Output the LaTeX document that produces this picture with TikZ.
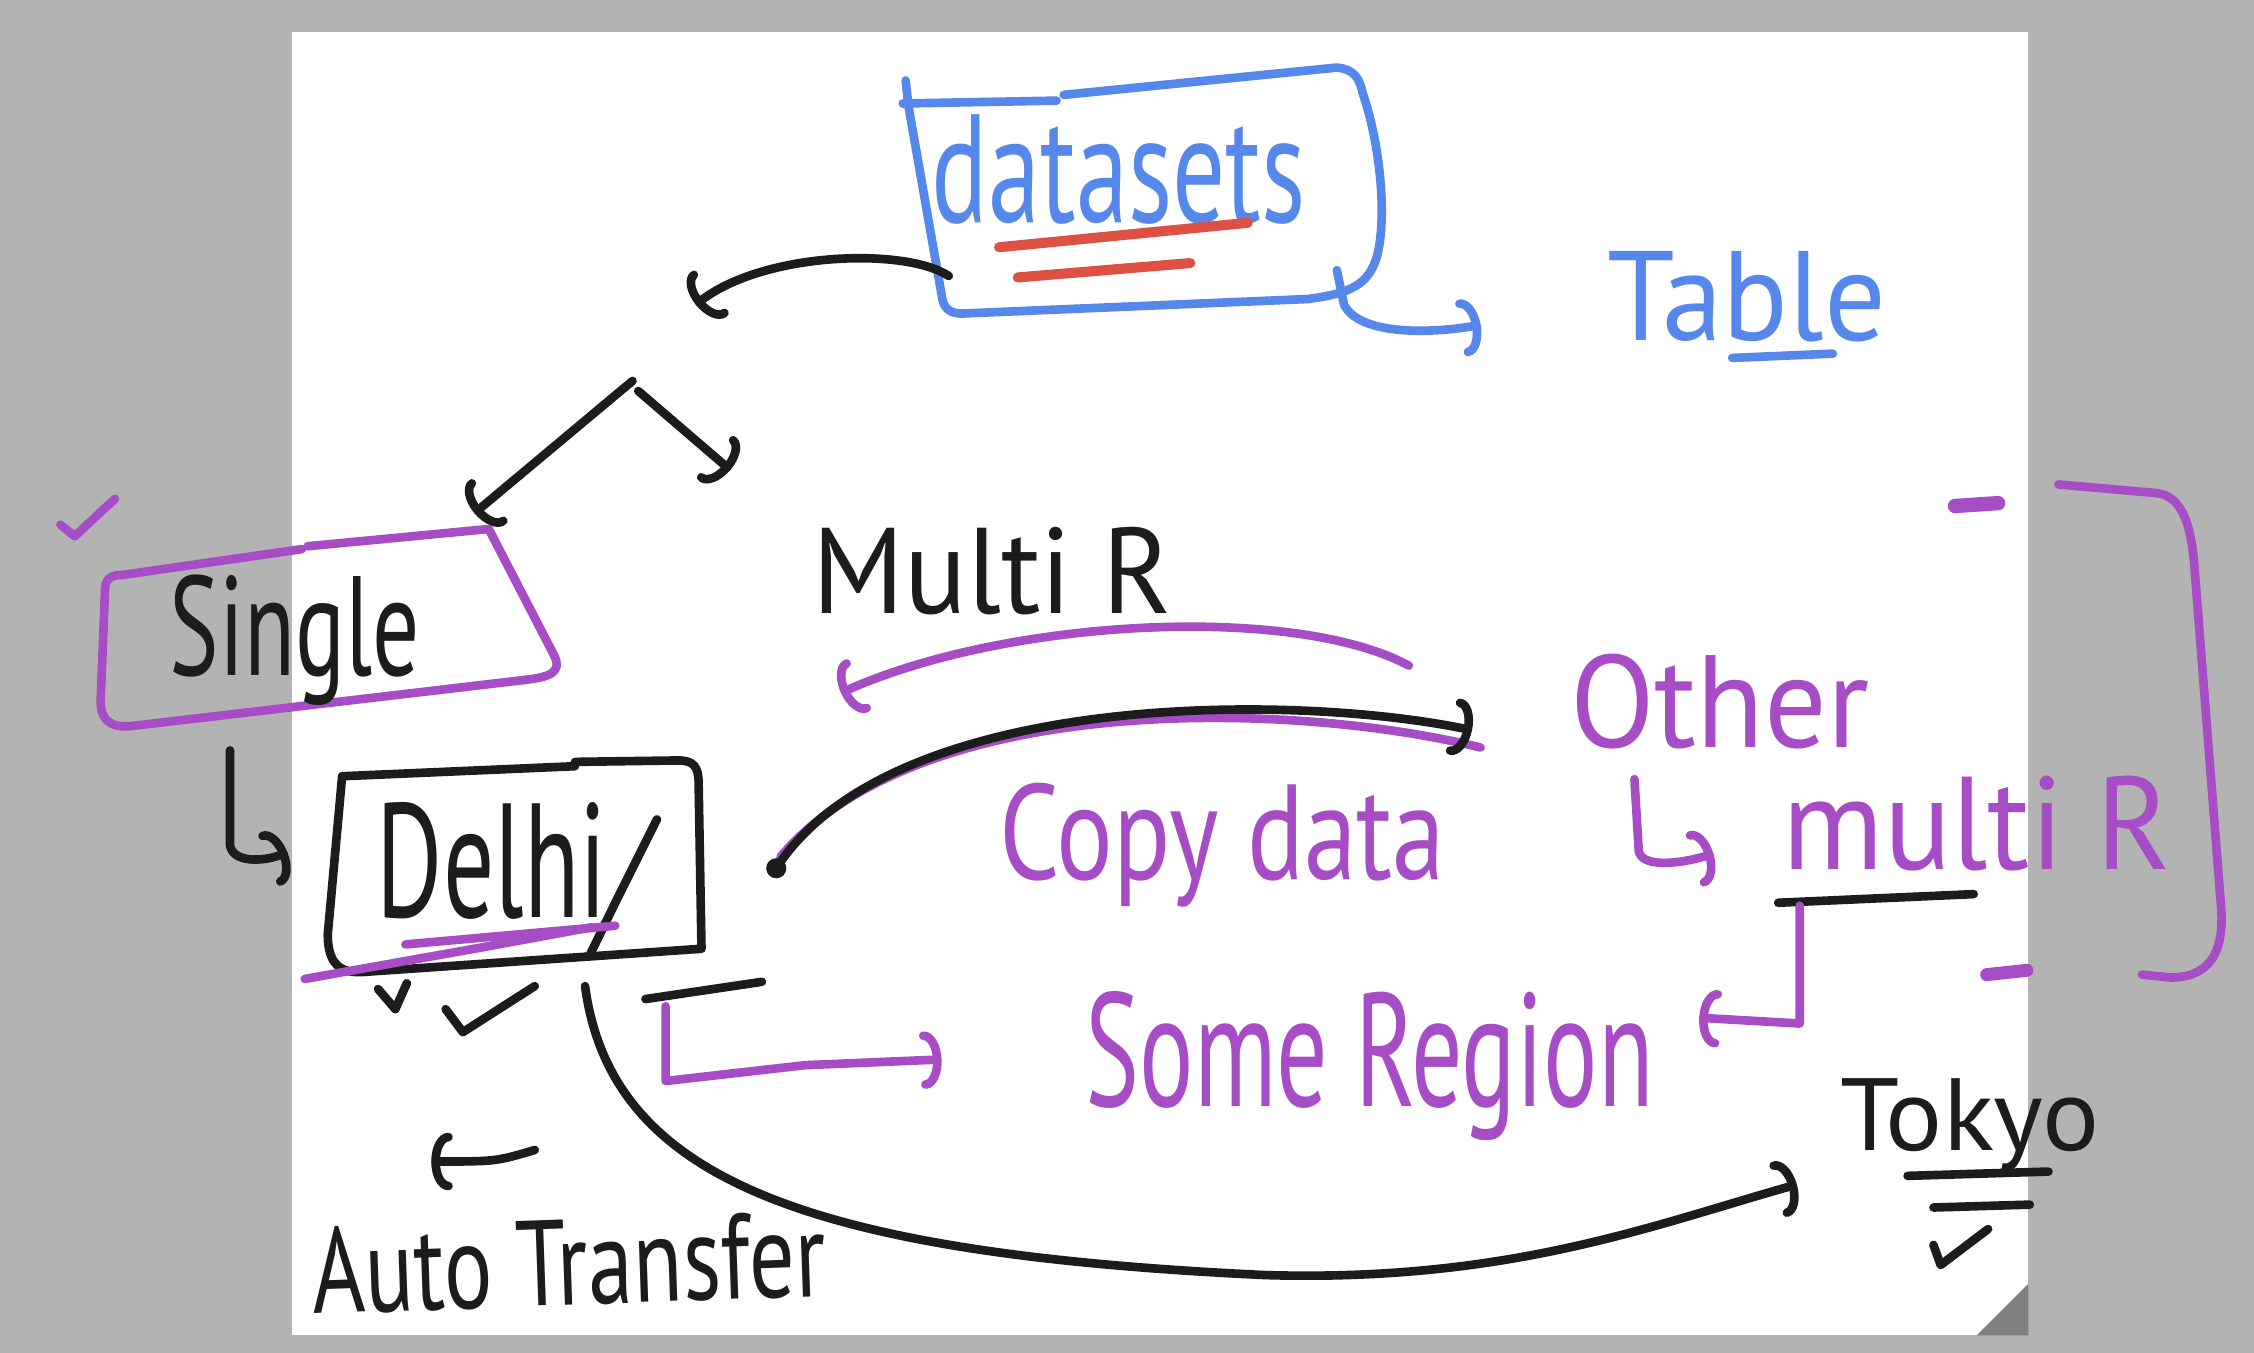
\documentclass[tikz,border=0pt]{standalone}
\usepackage{fontspec}
\setmainfont{PT Sans}
\usetikzlibrary{arrows.meta}
\definecolor{bggray}{HTML}{B3B3B3}
\definecolor{foldgray}{HTML}{808080}
\definecolor{inkblue}{HTML}{5688EB}
\definecolor{inkpurple}{HTML}{A64CC4}
\definecolor{inkred}{HTML}{DD5044}
\definecolor{inkblack}{HTML}{1C1C1C}
\newcommand\handw[3]{\resizebox{#1pt}{#2pt}{#3}}
\tikzset{
  pen/.style={line width=6pt, line cap=round, line join=round},
  bk/.style={pen, draw=inkblack},
  bl/.style={pen, draw=inkblue},
  pu/.style={pen, draw=inkpurple},
  rd/.style={pen, draw=inkred},
  hooktip/.style={-{Arc Barb[length=12pt,width=40pt,line cap=round]}},
  txt/.style={inner sep=0pt, anchor=base west},
}
\begin{document}
\begin{tikzpicture}[x=1pt,y=-1pt]
\useasboundingbox (0,0) rectangle (1568,941);
\fill[bggray] (0,0) rectangle (1568,941);
\fill[white] (203,22) rectangle (1411,929);
\fill[foldgray] (1375,929) -- (1411,893) -- (1411,929) -- cycle;

% ---------- datasets box (blue) ----------
\draw[bl] (630,56) -- (632,74);
\draw[bl] (628,72) -- (735,70);
\draw[bl] (740,66) -- (930,47) .. controls (942,48) and (946,55) .. (948,65)
  .. controls (960,100) and (965,150) .. (958,178)
  .. controls (952,198) and (940,204) .. (910,208)
  -- (672,218) .. controls (660,219) and (656,214) .. (655,205) -- (632,74);
\node[txt, text=inkblue] (datasets) at (648,155) {\handw{260}{75}{datasets}};
\draw[rd, line width=7pt] (695,172) -- (868,155);
\draw[rd, line width=7pt] (708,193) -- (828,183);
\coordinate (dsLeft) at (660,192);
\coordinate (dsCorner) at (930,188);

% ---------- Table ----------
\node[txt, text=inkblue] (table) at (1118,237) {\handw{194}{62}{Table}};
\draw[bl] (1205,249) -- (1275,246);
\coordinate (tableIn) at (1030,226);
\draw[bl, hooktip] (dsCorner) -- (935,212) .. controls (945,232) and (990,233) .. (tableIn);

% ---------- datasets -> split ----------
\coordinate (splitIn) at (484,212);
\draw[bk, hooktip] (dsLeft) .. controls (630,172) and (530,175) .. (splitIn);
\coordinate (splitA) at (440,265);
\coordinate (splitB) at (444,272);
\coordinate (singleIn) at (330,357);
\coordinate (otherIn) at (508,327);
\draw[bk, hooktip] (splitA) -- (singleIn);
\draw[bk, hooktip] (splitB) -- (otherIn);

% ---------- check on the margin ----------
\draw[pu] (42,365) -- (52,373) -- (80,347);

% ---------- Single box (purple) ----------
\draw[pu] (85,400) -- (210,382);
\draw[pu] (214,380) -- (340,368) -- (385,455)
  .. controls (392,468) and (382,471) .. (365,473) -- (92,505)
  .. controls (74,507) and (70,498) .. (70,488) -- (73,412)
  .. controls (73,403) and (76,400) .. (85,400);
\node[txt, text=inkblack] (single) at (118,470) {\handw{174}{70}{Single}};

% ---------- Single -> Delhi ----------
\coordinate (singleOut) at (160,522);
\coordinate (delhiIn) at (200,593);
\draw[bk, hooktip] (singleOut) -- (160,588) .. controls (162,600) and (182,600) .. (delhiIn);

% ---------- Delhi box (black) ----------
\draw[bk] (238,540) -- (400,533);
\draw[bk] (400,530) -- (472,529) .. controls (483,529) and (486,534) .. (486,545)
  -- (488,660) -- (255,676) .. controls (236,678) and (228,670) .. (228,650) -- (238,540);
\node[txt, text=inkblack] (delhi) at (262,638) {\handw{160}{80}{Delhi}};
\draw[bk] (457,570) -- (428,628) -- (410,665);
\draw[pu] (282,657) -- (428,644);
\draw[pu] (212,681) -- (330,660) -- (412,645);
\draw[bk] (263,688) -- (275,702) -- (283,684);
\draw[bk] (310,702) -- (322,718) -- (372,686);

% ---------- Delhi -> Some Region ----------
\draw[bk] (449,695) -- (530,683);
\coordinate (regOut) at (463,700);
\coordinate (regIn) at (655,737);
\draw[pu, hooktip] (regOut) -- (463,752) -- (560,741) -- (regIn);

% ---------- Auto Transfer ----------
\coordinate (autoA) at (372,800);
\coordinate (autoB) at (300,808);
\draw[bk, hooktip] (autoA) .. controls (345,808) .. (autoB);
\node[txt, text=inkblack, rotate=2] (auto) at (218,914) {\handw{357}{60}{Auto Transfer}};

% ---------- Delhi -> Tokyo ----------
\coordinate (delhiLow) at (407,686);
\coordinate (tokyoIn) at (1250,824);
\draw[bk, hooktip] (delhiLow) .. controls (425,820) and (560,872) .. (880,887)
  .. controls (1050,892) and (1150,852) .. (tokyoIn);
\node[txt, text=inkblack] (tokyo) at (1280,800) {\handw{180}{50}{Tokyo}};
\draw[bk] (1327,818) -- (1425,815);
\draw[bk] (1345,840) -- (1412,838);
\draw[bk] (1345,866) -- (1350,880) -- (1383,855);

% ---------- Multi R ----------
\node[txt, text=inkblack] (multiR) at (565,427) {\handw{250}{60}{Multi R}};
\coordinate (mrA) at (980,463);
\coordinate (mrB) at (585,482);
\draw[pu, hooktip] (mrA) .. controls (900,420) and (700,430) .. (mrB);

% ---------- Copy data arrow ----------
\coordinate (cpL) at (540,604);
\coordinate (cpR) at (1024,508);
\draw[pu] (543,596) .. controls (640,480) and (900,488) .. (1030,520);
\draw[bk, hooktip] (cpL) .. controls (620,480) and (900,482) .. (cpR);
\fill[inkblack] (cpL) circle (7);
\node[txt, text=inkpurple] (copy) at (695,612) {\handw{310}{67}{Copy data}};

% ---------- Other / multi R ----------
\node[txt, text=inkpurple] (other) at (1092,520) {\handw{208}{65}{Other}};
\coordinate (otOut) at (1137,542);
\coordinate (mIn) at (1192,594);
\draw[pu, hooktip] (otOut) -- (1140,592) .. controls (1142,603) and (1165,602) .. (mIn);
\node[txt, text=inkpurple] (multiR2) at (1240,605) {\handw{270}{65}{multi R}};
\draw[bk] (1237,628) -- (1373,622);
\coordinate (mOut) at (1252,630);
\coordinate (someIn) at (1182,708);
\draw[pu, hooktip] (mOut) -- (1252,712) -- (someIn);

% ---------- Some Region ----------
\node[txt, text=inkpurple] (region) at (755,770) {\handw{395}{80}{Some Region}};

% ---------- right bracket ----------
\draw[pu, line width=10pt] (1360,352) -- (1390,350);
\draw[pu, line width=9pt] (1382,678) -- (1410,675);
\draw[pu] (1432,337) -- (1500,343) .. controls (1520,345) and (1525,370) .. (1527,400)
  -- (1545,630) .. controls (1548,665) and (1535,680) .. (1510,680) -- (1490,678);
\end{tikzpicture}
\end{document}
